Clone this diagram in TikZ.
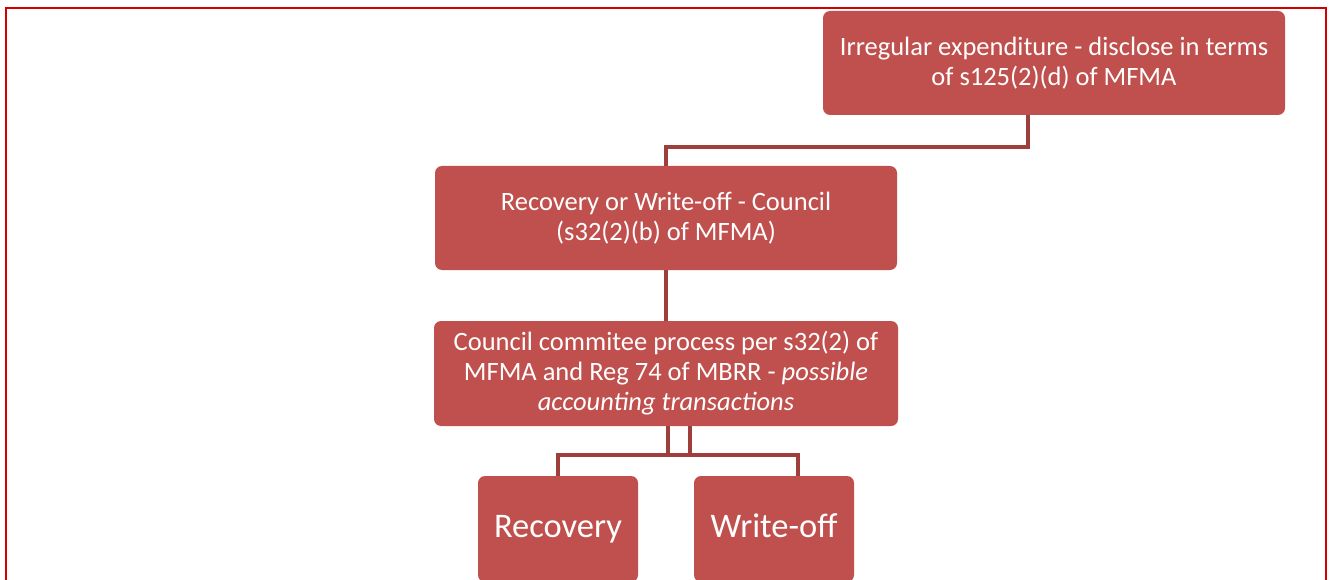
\documentclass[tikz,border=0pt]{standalone}
\usepackage{fontspec}
\setmainfont{Carlito}
\definecolor{boxred}{HTML}{C0504D}
\definecolor{linkred}{HTML}{9E3F3C}
\definecolor{frame}{HTML}{D40000}
\begin{document}
\begin{tikzpicture}[x=1pt,y=-1pt,
  box/.style={fill=boxred,rounded corners=7pt,text=white,align=center,inner sep=0pt,
    font=\fontsize{26.5}{30}\selectfont},
  bigbox/.style={box,font=\fontsize{34.5}{40}\selectfont},
  link/.style={draw=linkred,line width=4.5pt}]
\useasboundingbox (0,0) rectangle (1330,580);
\draw[frame,line width=2pt] (6,600) -- (6,8) -- (1326,8) -- (1326,600);
\node[box,minimum width=462pt,minimum height=104pt] (a) at (1054,63)
  {Irregular expenditure - disclose in terms\\of s125(2)(d) of MFMA};
\node[box,minimum width=462pt,minimum height=104pt] (b) at (666,218)
  {Recovery or Write-off - Council\\(s32(2)(b) of MFMA)};
\node[box,minimum width=464pt,minimum height=105pt] (c) at (666,373.5)
  {Council commitee process per s32(2) of\\MFMA and Reg 74 of MBRR - \textit{possible}\\\textit{accounting transactions}};
\node[bigbox,minimum width=160pt,minimum height=106pt] (d) at (558,529) {Recovery\strut};
\node[bigbox,minimum width=160pt,minimum height=106pt] (e) at (774,529) {Write-off\strut};
\coordinate (aout) at ([xshift=-26pt]a.south);
\coordinate (ein) at ([xshift=24pt]e.north);
\draw[link] (aout) -- ++(0,32) -| (b.north);
\draw[link] (b.south) -- (c.north);
\draw[link] ([xshift=24pt]c.south) -- ++(0,29) -| (d.north);
\draw[link] ([xshift=2pt]c.south) -- ++(0,29) -| (ein);
\end{tikzpicture}
\end{document}
